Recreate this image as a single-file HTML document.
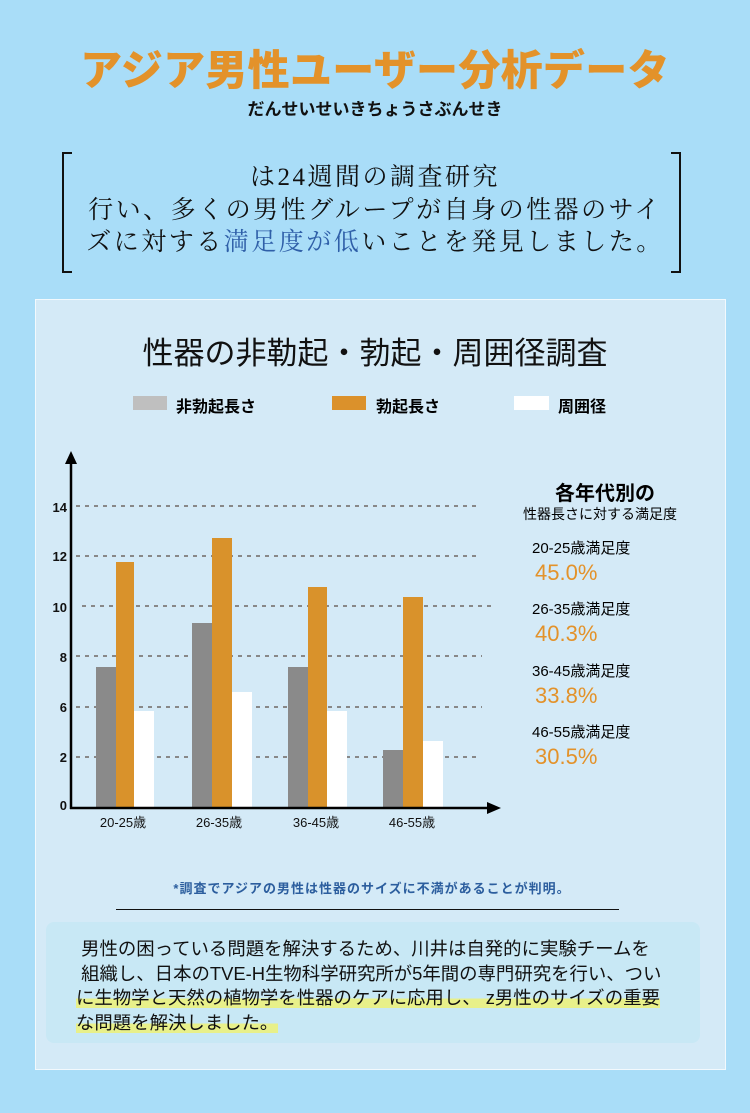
<!DOCTYPE html>
<html><head><meta charset="utf-8"><style>
body{margin:0;width:750px;height:1113px;background:#a9ddf8;position:relative;overflow:hidden;font-family:"Liberation Sans","Noto Sans CJK JP",sans-serif}
.a{position:absolute;white-space:nowrap}
.c{left:0;width:750px;text-align:center}
</style></head><body>
<div class="a c" style="top:37px;font-size:42px;font-weight:900;color:#e3922a;letter-spacing:0.3px">アジア男性ユーザー分析データ</div>
<div class="a c" style="top:95px;font-size:17px;font-weight:bold;color:#111">だんせいせいきちょうさぶんせき</div>
<div class="a" style="left:62px;top:152px;width:8px;height:117px;border:2px solid #111;border-right:none"></div>
<div class="a" style="left:671px;top:152px;width:8px;height:117px;border:2px solid #111;border-left:none"></div>
<div class="a c" style="top:162px;font-size:25px;line-height:32.5px;color:#111;font-family:'Liberation Serif','Noto Serif CJK SC',serif;letter-spacing:2.5px">は24週間の調査研究<br>行い、多くの男性グループが自身の性器のサイ<br>ズに対する<span style="color:#2f5fa8">満足度が低</span>いことを発見しました。</div>

<div class="a" style="left:35px;top:299px;width:689px;height:769px;background:#d4eaf7;border:1px solid #f2f9fd"></div>
<div class="a c" style="top:328px;font-size:31px;color:#111">性器の非勒起・勃起・周囲径調査</div>
<div class="a" style="left:133px;top:396px;width:34px;height:14px;background:#bfbfbf"></div>
<div class="a" style="left:176px;top:393px;font-size:16px;font-weight:bold">非勃起長さ</div>
<div class="a" style="left:332px;top:396px;width:34px;height:14px;background:#db912b"></div>
<div class="a" style="left:376px;top:393px;font-size:16px;font-weight:bold">勃起長さ</div>
<div class="a" style="left:514px;top:396px;width:35px;height:14px;background:#fff"></div>
<div class="a" style="left:558px;top:393px;font-size:16px;font-weight:bold">周囲径</div>

<svg class="a" style="left:0;top:0" width="750" height="1113">
<g stroke="#888" stroke-width="2" stroke-dasharray="4,5">
<line x1="76" y1="506" x2="480" y2="506"/><line x1="76" y1="556" x2="480" y2="556"/><line x1="82" y1="606" x2="492" y2="606"/><line x1="76" y1="656" x2="482" y2="656"/><line x1="76" y1="707" x2="482" y2="707"/><line x1="76" y1="757" x2="480" y2="757"/>
</g>
<g fill="#8a8a8a"><rect x="96" y="667" width="20" height="141"/><rect x="192" y="623" width="20" height="185"/><rect x="288" y="667" width="20" height="141"/><rect x="383" y="750" width="20" height="58"/></g>
<g fill="#d9922b"><rect x="116" y="562" width="18" height="246"/><rect x="212" y="538" width="20" height="270"/><rect x="308" y="587" width="19" height="221"/><rect x="403" y="597" width="20" height="211"/></g>
<g fill="#fff"><rect x="134" y="711" width="20" height="97"/><rect x="232" y="692" width="20" height="116"/><rect x="327" y="711" width="20" height="97"/><rect x="423" y="741" width="20" height="67"/></g>
<line x1="71" y1="462" x2="71" y2="809" stroke="#000" stroke-width="2.5"/>
<polygon points="71,451 65,464 77,464" fill="#000"/>
<line x1="70" y1="808" x2="490" y2="808" stroke="#000" stroke-width="2.5"/>
<polygon points="501,808 487,802 487,814" fill="#000"/>
<g font-size="13" font-weight="bold" text-anchor="end" font-family="Liberation Sans,sans-serif" fill="#111">
<text x="67" y="512">14</text><text x="67" y="561">12</text><text x="67" y="612">10</text><text x="67" y="662">8</text><text x="67" y="712">6</text><text x="67" y="762">2</text><text x="67" y="810">0</text></g>
<g font-size="13" text-anchor="middle" fill="#111" font-family="Liberation Sans,Noto Sans CJK JP,sans-serif">
<text x="123" y="827">20-25歳</text><text x="219" y="827">26-35歳</text><text x="316" y="827">36-45歳</text><text x="412" y="827">46-55歳</text></g>
</svg>

<div class="a" style="left:555px;top:477px;font-size:20px;font-weight:bold">各年代別の</div>
<div class="a" style="left:523px;top:504px;font-size:14px">性器長さに対する満足度</div>
<div class="a" style="left:532px;top:540px;font-size:15px;line-height:18px">20-25歳満足度<br><span style="font-size:22px;color:#e3922a;line-height:30px;margin-left:3px">45.0%</span></div>
<div class="a" style="left:532px;top:601px;font-size:15px;line-height:18px">26-35歳満足度<br><span style="font-size:22px;color:#e3922a;line-height:30px;margin-left:3px">40.3%</span></div>
<div class="a" style="left:532px;top:663px;font-size:15px;line-height:18px">36-45歳満足度<br><span style="font-size:22px;color:#e3922a;line-height:30px;margin-left:3px">33.8%</span></div>
<div class="a" style="left:532px;top:724px;font-size:15px;line-height:18px">46-55歳満足度<br><span style="font-size:22px;color:#e3922a;line-height:30px;margin-left:3px">30.5%</span></div>

<div class="a" style="left:0;width:744px;text-align:center;top:878px;font-size:13px;font-weight:bold;color:#2c5e9e;letter-spacing:1px">*調査でアジアの男性は性器のサイズに不満があることが判明。</div>
<div class="a" style="left:116px;top:909px;width:503px;height:1px;background:#111"></div>
<div class="a" style="left:46px;top:922px;width:654px;height:121px;background:#c8e8f5;border-radius:8px"></div>
<div class="a" style="left:76px;top:937px;font-size:18.4px;line-height:24.5px;color:#111">&nbsp;男性の困っている問題を解決するため、川井は自発的に実験チームを<br>&nbsp;組織し、日本のTVE-H生物科学研究所が5年間の専門研究を行い、つい<br><span style="background:linear-gradient(transparent 55%,#e8f08a 55%)">に生物学と天然の植物学を性器のケアに応用し、 z男性のサイズの重要</span><br><span style="background:linear-gradient(transparent 55%,#e8f08a 55%)">な問題を解決しました。</span></div>
</body></html>
